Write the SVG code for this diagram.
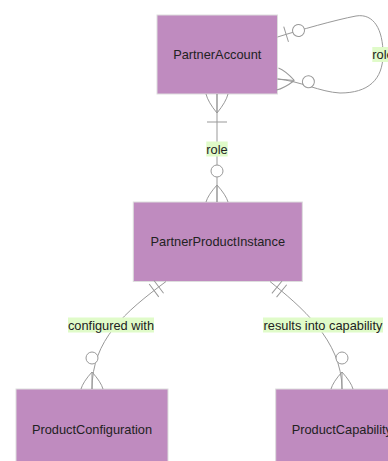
<svg xmlns="http://www.w3.org/2000/svg" width="388" height="461" viewBox="0 0 388 461">
<style>
.box{fill:#bf8bbf;stroke:#ddd;stroke-width:1}
.nt{font-family:"Liberation Sans",Arial,sans-serif;font-size:12.8px;fill:#222;text-anchor:middle;dominant-baseline:central}
.edge{fill:none;stroke:#999;stroke-width:1}
.mk{fill:none;stroke:#999;stroke-width:1}
.mc{fill:#fff;stroke:#999;stroke-width:1}
.lbg{fill:#e0fbc9}
.lt{font-family:"Liberation Sans",Arial,sans-serif;font-size:12.8px;fill:#222;text-anchor:middle;dominant-baseline:central}
</style>
<defs>
<marker id="zeroOrMoreEnd" markerUnits="userSpaceOnUse" orient="auto" overflow="visible" markerWidth="1" markerHeight="1" refX="0" refY="0">
<path class="mk" d="M-17,0 L0,0 M-17,0 Q-7,-9 0,-11 M-17,0 Q-7,9 0,11"/>
<circle class="mc" cx="-31" cy="0" r="6"/>
</marker>
<marker id="oneOrMoreStart" markerUnits="userSpaceOnUse" orient="auto" overflow="visible" markerWidth="1" markerHeight="1" refX="0" refY="0">
<path class="mk" d="M19,0 L0,0 M19,0 Q8,-9 0,-11 M19,0 Q8,9 0,11 M28,-10 L28,10"/>
</marker>
<marker id="zeroOrOneStart" markerUnits="userSpaceOnUse" orient="auto" overflow="visible" markerWidth="1" markerHeight="1" refX="0" refY="0">
<path class="mk" d="M9,-8 L9,8"/>
<circle class="mc" cx="22" cy="0" r="6"/>
</marker>
<marker id="onlyOneStart" markerUnits="userSpaceOnUse" orient="auto" overflow="visible" markerWidth="1" markerHeight="1" refX="0" refY="0">
<path class="mk" d="M9,-8 L9,8 M15,-8 L15,8"/>
</marker>
</defs>
<rect width="388" height="461" fill="#fff"/>
<g id="PartnerAccount">
<rect class="box" x="157" y="15" width="120.5" height="79"/>
<text class="nt" x="217.25" y="54.5">PartnerAccount</text>
</g>
<g id="PartnerProductInstance">
<rect class="box" x="133.3" y="202" width="169" height="79.5"/>
<text class="nt" x="217.8" y="241.7">PartnerProductInstance</text>
</g>
<g id="ProductConfiguration">
<rect class="box" x="16" y="389" width="152" height="80"/>
<text class="nt" x="92" y="429">ProductConfiguration</text>
</g>
<g id="ProductCapability">
<rect class="box" x="275.7" y="389" width="132.3" height="80"/>
<text class="nt" x="341.85" y="429">ProductCapability</text>
</g>
<g id="connectors">
<path class="edge" d="M277.5,37 C300,30 335,20 356,16 C374,13 383,30 383,54 C383,80 368,93 340,93 C320,92 300,81 277.5,79" marker-start="url(#zeroOrOneStart)" marker-end="url(#zeroOrMoreEnd)"/>
<path class="edge" d="M217,94 L217,202" marker-start="url(#oneOrMoreStart)" marker-end="url(#zeroOrMoreEnd)"/>
<path class="edge" d="M166,281.5 C125,312 92,340 92,389" marker-start="url(#onlyOneStart)" marker-end="url(#zeroOrMoreEnd)"/>
<path class="edge" d="M270,281.5 C300,306 342,340 342,389" marker-start="url(#onlyOneStart)" marker-end="url(#zeroOrMoreEnd)"/>
<g class="elabel">
<rect class="lbg" x="372.3" y="47" width="21.4" height="15"/>
<text class="lt" x="383" y="54.5">role</text>
</g>
<g class="elabel">
<rect class="lbg" x="206.3" y="141.5" width="21.4" height="15"/>
<text class="lt" x="217" y="149">role</text>
</g>
<g class="elabel">
<rect class="lbg" x="68" y="317.5" width="86" height="15"/>
<text class="lt" x="111" y="325">configured with</text>
</g>
<g class="elabel">
<rect class="lbg" x="263" y="317.5" width="120" height="15"/>
<text class="lt" x="323" y="325">results into capability</text>
</g>
</g>
</svg>
